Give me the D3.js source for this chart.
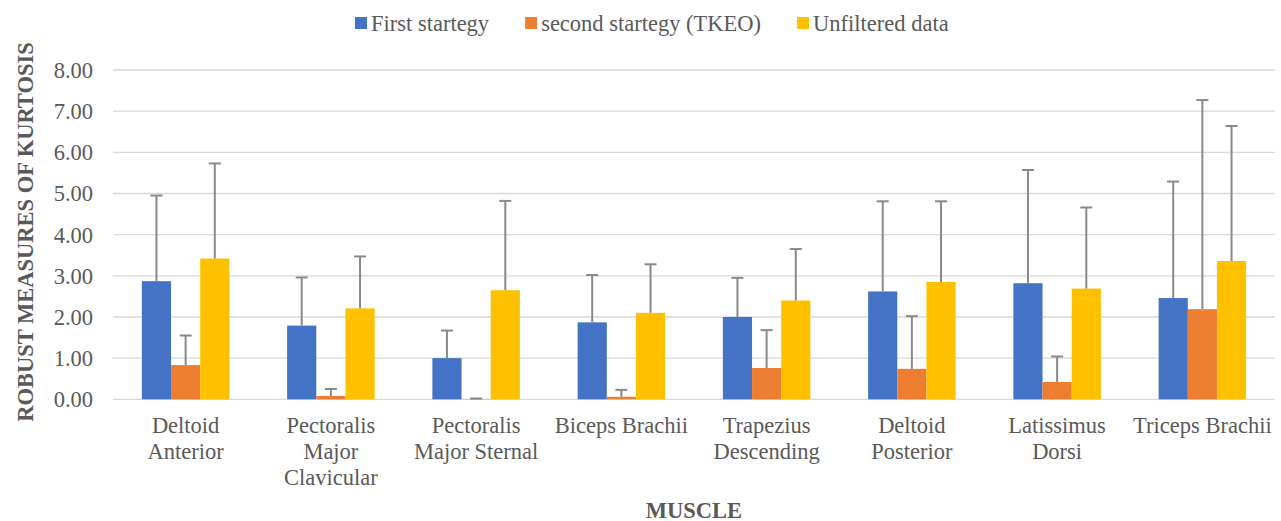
<!DOCTYPE html>
<html>
<head>
    <title>Robust measures of kurtosis by muscle</title>
    <script src="https://d3js.org/d3.v7.min.js"></script>
    <style>
        body { margin: 0; background: #fff; }
        svg text { font-family: "Liberation Serif", "Times New Roman", serif; fill: #595959; }
        .tick-label { font-size: 22.5px; }
        .axis-title { font-size: 22.5px; font-weight: bold; }
        .grid line { stroke: #d9d9d9; stroke-width: 1.3; }
        .err { stroke: #898989; stroke-width: 2; }
    </style>
</head>
<body>
<div id="chart"></div>
<script>
    // muscles on the x axis
    const categories = ["Deltoid Anterior", "Pectoralis Major Clavicular", "Pectoralis Major Sternal",
        "Biceps Brachii", "Trapezius Descending", "Deltoid Posterior", "Latissimus Dorsi", "Triceps Brachii"];
    const seriesNames = ["First startegy", "second startegy (TKEO)", "Unfiltered data"];
    const seriesColors = ["#4472C4", "#ED7D31", "#FFC000"];

    // bar values
    const firstValues = [2.87, 1.79, 1.00, 1.87, 2.00, 2.62, 2.82, 2.46];
    const secondValues = [0.83, 0.08, 0.005, 0.06, 0.76, 0.74, 0.42, 2.19];
    const unfilteredValues = [3.42, 2.21, 2.65, 2.10, 2.40, 2.85, 2.69, 3.36];

    // plus error (only drawn upward)
    const firstErr = [2.08, 1.17, 0.67, 1.15, 0.95, 2.19, 2.75, 2.83];
    const secondErr = [0.72, 0.17, 0.015, 0.17, 0.92, 1.28, 0.62, 5.08];
    const unfilteredErr = [2.31, 1.26, 2.17, 1.18, 1.25, 1.96, 1.97, 3.28];

    const yTicks = [0, 1, 2, 3, 4, 5, 6, 7, 8];

    const W = 1281, H = 521;
    const plot = { left: 113, right: 1275, top: 70, bottom: 399.3 };

    const valuesBySeries = [firstValues, secondValues, unfilteredValues];
    const errBySeries = [firstErr, secondErr, unfilteredErr];
    const rows = [];
    categories.forEach((c, i) => {
        seriesNames.forEach((s, j) => {
            rows.push({ cat: c, series: s, idx: j, value: valuesBySeries[j][i], err: errBySeries[j][i] });
        });
    });

    const svg = d3.select("#chart").append("svg")
        .attr("width", W).attr("height", H);

    const x0 = d3.scaleBand().domain(categories).range([plot.left, plot.right]).padding(0);
    const x1 = d3.scaleBand().domain(seriesNames).range([0, x0.bandwidth()])
        .paddingInner(0).paddingOuter(0.99);
    const y = d3.scaleLinear().domain([0, 8]).range([plot.bottom, plot.top]);

    // gridlines
    svg.append("g").attr("class", "grid")
        .selectAll("line").data(yTicks).enter().append("line")
        .attr("x1", plot.left).attr("x2", plot.right)
        .attr("y1", d => y(d)).attr("y2", d => y(d));

    // y tick labels
    svg.append("g").selectAll("text").data(yTicks).enter().append("text")
        .attr("class", "tick-label")
        .attr("x", 93).attr("y", d => y(d))
        .attr("dy", "0.35em")
        .attr("text-anchor", "end")
        .text(d => d3.format(".2f")(d));

    // bars
    svg.append("g").selectAll("rect").data(rows).enter().append("rect")
        .attr("x", d => x0(d.cat) + x1(d.series))
        .attr("width", x1.bandwidth())
        .attr("y", d => y(d.value))
        .attr("height", d => y(0) - y(d.value))
        .attr("fill", d => seriesColors[d.idx]);

    // error bars (plus only)
    const eb = svg.append("g").selectAll("g").data(rows).enter().append("g")
        .attr("transform", d => `translate(${x0(d.cat) + x1(d.series) + x1.bandwidth() / 2},0)`);
    eb.append("line").attr("class", "err")
        .attr("x1", 0).attr("x2", 0)
        .attr("y1", d => y(d.value)).attr("y2", d => y(d.value + d.err));
    eb.append("line").attr("class", "err")
        .attr("x1", -6).attr("x2", 6)
        .attr("y1", d => y(d.value + d.err)).attr("y2", d => y(d.value + d.err));

    // category labels, wrapped
    const catLabels = svg.append("g").selectAll("text").data(categories).enter().append("text")
        .attr("class", "tick-label")
        .attr("text-anchor", "middle")
        .attr("x", d => x0(d) + x0.bandwidth() / 2)
        .attr("y", 433);

    catLabels.each(function(d) {
        const t = d3.select(this);
        const words = d.split(" ");
        const cx = +t.attr("x");
        let line = [];
        let tspan = t.append("tspan").attr("x", cx);
        words.forEach(w => {
            line.push(w);
            tspan.text(line.join(" "));
            if (tspan.node().getComputedTextLength() > 142 && line.length > 1) {
                line.pop();
                tspan.text(line.join(" "));
                line = [w];
                tspan = t.append("tspan").attr("x", cx).attr("dy", "26px").text(w);
            }
        });
    });

    // axis titles
    svg.append("text").attr("class", "axis-title")
        .attr("text-anchor", "middle")
        .attr("transform", "translate(25,232) rotate(-90)")
        .attr("dy", "0.35em")
        .text("ROBUST MEASURES OF KURTOSIS");

    svg.append("text").attr("class", "axis-title")
        .attr("text-anchor", "middle")
        .attr("x", (plot.left + plot.right) / 2)
        .attr("y", 518)
        .text("MUSCLE");

    // legend
    const legend = svg.append("g").attr("transform", "translate(355,23)");
    let lx = 0;
    seriesNames.forEach((s, j) => {
        const g = legend.append("g").attr("transform", `translate(${lx},0)`);
        g.append("rect").attr("x", 0).attr("y", -6).attr("width", 12).attr("height", 12)
            .attr("fill", seriesColors[j]);
        const t = g.append("text").attr("class", "tick-label")
            .attr("x", 16).attr("dy", "0.35em").text(s);
        lx += 16 + t.node().getComputedTextLength() + 36;
    });
</script>
</body>
</html>
